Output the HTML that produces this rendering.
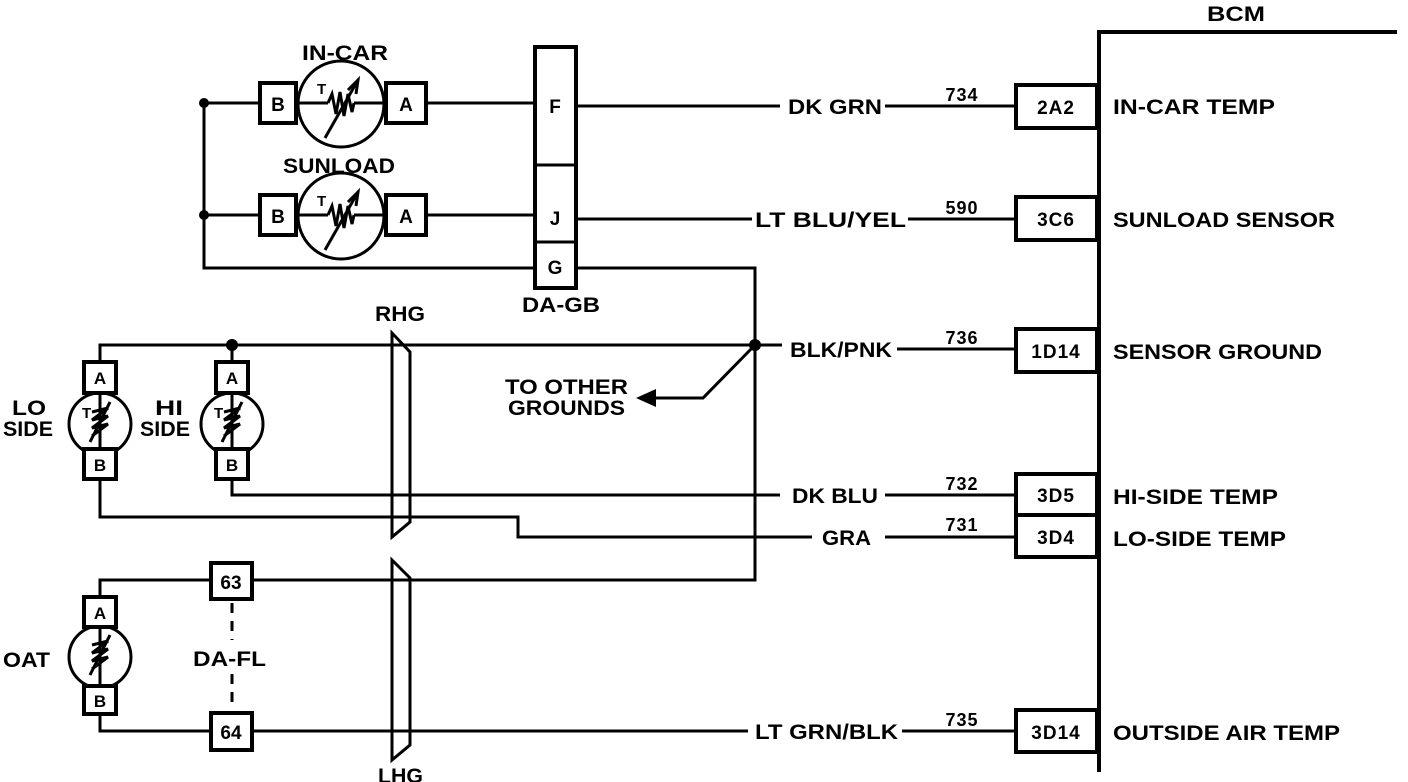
<!DOCTYPE html>
<html><head><meta charset="utf-8"><style>
html,body{margin:0;padding:0;background:#fff;}
svg{display:block;}
text{font-family:"Liberation Sans",sans-serif;font-weight:bold;fill:#000;}
</style></head><body>
<svg width="1408" height="782" viewBox="0 0 1408 782" xmlns="http://www.w3.org/2000/svg">
<g stroke="#000" stroke-width="2" fill="none">
<polyline points="1099,772 1099,32 1397,32" stroke-width="4"/>
<rect x="1016" y="85" width="81" height="43" stroke-width="4" fill="#fff"/>
<rect x="1016" y="197" width="81" height="43" stroke-width="4" fill="#fff"/>
<rect x="1016" y="329" width="81" height="43" stroke-width="4" fill="#fff"/>
<rect x="1016" y="474" width="81" height="41" stroke-width="4" fill="#fff"/>
<rect x="1016" y="515" width="81" height="42" stroke-width="4" fill="#fff"/>
<rect x="1016" y="710" width="81" height="42" stroke-width="4" fill="#fff"/>
<line x1="885" y1="106" x2="1016" y2="106" stroke-width="3"/>
<line x1="908" y1="219" x2="1016" y2="219" stroke-width="3"/>
<line x1="897" y1="349" x2="1016" y2="349" stroke-width="3"/>
<line x1="885" y1="495" x2="1016" y2="495" stroke-width="3"/>
<line x1="885" y1="537" x2="1016" y2="537" stroke-width="3"/>
<line x1="902" y1="731" x2="1016" y2="731" stroke-width="3"/>
<polyline points="204,103 204,268 535,268" stroke-width="3"/>
<line x1="204" y1="103" x2="260" y2="103" stroke-width="3"/>
<line x1="204" y1="215" x2="260" y2="215" stroke-width="3"/>
<rect x="260" y="83" width="36" height="40" stroke-width="4" fill="#fff"/>
<rect x="386" y="83" width="40" height="40" stroke-width="4" fill="#fff"/>
<rect x="260" y="195" width="36" height="40" stroke-width="4" fill="#fff"/>
<rect x="386" y="195" width="40" height="40" stroke-width="4" fill="#fff"/>
<circle cx="341" cy="104" r="43" stroke-width="3" fill="#fff"/>
<circle cx="341" cy="216" r="43" stroke-width="3" fill="#fff"/>
<line x1="296" y1="103" x2="328" y2="103" stroke-width="3"/>
<line x1="354" y1="103" x2="386" y2="103" stroke-width="3"/>
<line x1="296" y1="215" x2="328" y2="215" stroke-width="3"/>
<line x1="354" y1="215" x2="386" y2="215" stroke-width="3"/>
<polyline points="328,103 332,94 336,114 340,92 344,116 348,94 352,112 354,103" stroke-width="3"/>
<line x1="325" y1="138" x2="358" y2="80" stroke-width="3"/>
<polyline points="348,90 358,80 356,94" stroke-width="3"/>
<polyline points="328,215 332,206 336,226 340,204 344,228 348,206 352,224 354,215" stroke-width="3"/>
<line x1="325" y1="250" x2="358" y2="192" stroke-width="3"/>
<polyline points="348,202 358,192 356,206" stroke-width="3"/>
<line x1="426" y1="103" x2="535" y2="103" stroke-width="3"/>
<line x1="426" y1="215" x2="535" y2="215" stroke-width="3"/>
<rect x="535" y="47" width="41" height="241" stroke-width="4" fill="#fff"/>
<line x1="535" y1="165" x2="576" y2="165" stroke-width="3"/>
<line x1="535" y1="242" x2="576" y2="242" stroke-width="3"/>
<line x1="576" y1="106" x2="780" y2="106" stroke-width="3"/>
<line x1="576" y1="219" x2="752" y2="219" stroke-width="3"/>
<polyline points="576,268 755,268 755,580 100,580 100,597" stroke-width="3"/>
<polyline points="100,361 100,345 782,345" stroke-width="3"/>
<line x1="232" y1="345" x2="232" y2="361" stroke-width="3"/>
<polyline points="755,345 703,398 655,398" stroke-width="3"/>
<polygon points="636,398 656,389 656,407" fill="#000" stroke="none"/>
<circle cx="100" cy="424" r="31" stroke-width="3" fill="#fff"/>
<circle cx="232" cy="424" r="31" stroke-width="3" fill="#fff"/>
<rect x="84" y="362" width="32" height="31" stroke-width="4" fill="#fff"/>
<rect x="84" y="449" width="32" height="30" stroke-width="4" fill="#fff"/>
<rect x="216" y="362" width="32" height="31" stroke-width="4" fill="#fff"/>
<rect x="216" y="449" width="32" height="30" stroke-width="4" fill="#fff"/>
<line x1="100" y1="393" x2="100" y2="449" stroke-width="3"/>
<line x1="232" y1="393" x2="232" y2="449" stroke-width="3"/>
<polyline points="92,412 108,408 92,420 108,416 92,428 108,424 92,436" stroke-width="3"/>
<line x1="90" y1="442" x2="110" y2="402" stroke-width="3"/>
<polyline points="224,412 240,408 224,420 240,416 224,428 240,424 224,436" stroke-width="3"/>
<line x1="222" y1="442" x2="242" y2="402" stroke-width="3"/>
<polyline points="232,479 232,495 780,495" stroke-width="3"/>
<polyline points="100,479 100,517 518,517 518,537 812,537" stroke-width="3"/>
<circle cx="100" cy="657" r="31" stroke-width="3" fill="#fff"/>
<rect x="84" y="597" width="32" height="30" stroke-width="4" fill="#fff"/>
<rect x="84" y="686" width="32" height="28" stroke-width="4" fill="#fff"/>
<line x1="100" y1="627" x2="100" y2="686" stroke-width="3"/>
<polyline points="92,645 108,641 92,653 108,649 92,661 108,657 92,669" stroke-width="3"/>
<line x1="90" y1="675" x2="110" y2="635" stroke-width="3"/>
<polyline points="100,714 100,731 748,731" stroke-width="3"/>
<rect x="211" y="563" width="41" height="36" stroke-width="4" fill="#fff"/>
<rect x="211" y="713" width="41" height="37" stroke-width="4" fill="#fff"/>
<line x1="232" y1="603" x2="232" y2="640" stroke-width="3" stroke-dasharray="10,8"/>
<line x1="232" y1="674" x2="232" y2="710" stroke-width="3" stroke-dasharray="10,8"/>
<polygon points="392,333 410,352 410,522 392,537" stroke-width="3" fill="none"/>
<polygon points="392,560 410,578 410,745 392,760" stroke-width="3" fill="none"/>
</g>
<g fill="#000">
<circle cx="204" cy="103" r="5"/><circle cx="204" cy="215" r="5"/>
<circle cx="232" cy="345" r="6"/><circle cx="755" cy="345" r="6"/>
</g>
<g font-size="21">
<text x="1207" y="21" textLength="58" lengthAdjust="spacingAndGlyphs">BCM</text>
<text x="1113" y="114" textLength="162" lengthAdjust="spacingAndGlyphs">IN-CAR TEMP</text>
<text x="1113" y="227" textLength="222" lengthAdjust="spacingAndGlyphs">SUNLOAD SENSOR</text>
<text x="1113" y="359" textLength="209" lengthAdjust="spacingAndGlyphs">SENSOR GROUND</text>
<text x="1113" y="504" textLength="165" lengthAdjust="spacingAndGlyphs">HI-SIDE TEMP</text>
<text x="1113" y="546" textLength="173" lengthAdjust="spacingAndGlyphs">LO-SIDE TEMP</text>
<text x="1113" y="740" textLength="227" lengthAdjust="spacingAndGlyphs">OUTSIDE AIR TEMP</text>
<text x="788" y="114" textLength="94" lengthAdjust="spacingAndGlyphs">DK GRN</text>
<text x="755" y="227" textLength="151" lengthAdjust="spacingAndGlyphs">LT BLU/YEL</text>
<text x="790" y="357" textLength="102" lengthAdjust="spacingAndGlyphs">BLK/PNK</text>
<text x="792" y="503" textLength="86" lengthAdjust="spacingAndGlyphs">DK BLU</text>
<text x="822" y="545" textLength="49" lengthAdjust="spacingAndGlyphs">GRA</text>
<text x="755" y="739" textLength="143" lengthAdjust="spacingAndGlyphs">LT GRN/BLK</text>
<text x="302" y="60" textLength="86" lengthAdjust="spacingAndGlyphs">IN-CAR</text>
<text x="283" y="173" textLength="112" lengthAdjust="spacingAndGlyphs">SUNLOAD</text>
<text x="375" y="321" textLength="50" lengthAdjust="spacingAndGlyphs">RHG</text>
<text x="378" y="783" textLength="45" lengthAdjust="spacingAndGlyphs">LHG</text>
<text x="522" y="312" textLength="78" lengthAdjust="spacingAndGlyphs">DA-GB</text>
<text x="193" y="666" textLength="73" lengthAdjust="spacingAndGlyphs">DA-FL</text>
<text x="505" y="394" textLength="123" lengthAdjust="spacingAndGlyphs">TO OTHER</text>
<text x="508" y="415" textLength="117" lengthAdjust="spacingAndGlyphs">GROUNDS</text>
<text x="12" y="415" textLength="34" lengthAdjust="spacingAndGlyphs">LO</text>
<text x="3" y="436" textLength="50" lengthAdjust="spacingAndGlyphs">SIDE</text>
<text x="155" y="415" textLength="28" lengthAdjust="spacingAndGlyphs">HI</text>
<text x="140" y="436" textLength="50" lengthAdjust="spacingAndGlyphs">SIDE</text>
<text x="3" y="667" textLength="47" lengthAdjust="spacingAndGlyphs">OAT</text>
</g>
<g font-size="18">
<text x="962" y="101" text-anchor="middle" letter-spacing="1">734</text>
<text x="962" y="214" text-anchor="middle" letter-spacing="1">590</text>
<text x="962" y="344" text-anchor="middle" letter-spacing="1">736</text>
<text x="962" y="490" text-anchor="middle" letter-spacing="1">732</text>
<text x="962" y="531" text-anchor="middle" letter-spacing="1">731</text>
<text x="962" y="726" text-anchor="middle" letter-spacing="1">735</text>
</g>
<g font-size="19">
<text x="1056" y="114" text-anchor="middle" letter-spacing="1">2A2</text>
<text x="1056" y="226" text-anchor="middle" letter-spacing="1">3C6</text>
<text x="1056" y="358" text-anchor="middle" letter-spacing="1">1D14</text>
<text x="1056" y="502" text-anchor="middle" letter-spacing="1">3D5</text>
<text x="1056" y="544" text-anchor="middle" letter-spacing="1">3D4</text>
<text x="1056" y="739" text-anchor="middle" letter-spacing="1">3D14</text>
<text x="278" y="111" text-anchor="middle">B</text>
<text x="406" y="111" text-anchor="middle">A</text>
<text x="278" y="223" text-anchor="middle">B</text>
<text x="406" y="223" text-anchor="middle">A</text>
<text x="555" y="113" text-anchor="middle">F</text>
<text x="555" y="225" text-anchor="middle">J</text>
<text x="555" y="274" text-anchor="middle">G</text>
<text x="100" y="384" text-anchor="middle" font-size="17">A</text>
<text x="100" y="471" text-anchor="middle" font-size="17">B</text>
<text x="232" y="384" text-anchor="middle" font-size="17">A</text>
<text x="232" y="471" text-anchor="middle" font-size="17">B</text>
<text x="100" y="619" text-anchor="middle" font-size="17">A</text>
<text x="100" y="707" text-anchor="middle" font-size="17">B</text>
<text x="231" y="589" text-anchor="middle">63</text>
<text x="231" y="739" text-anchor="middle">64</text>
<text x="317" y="94" font-size="15">T</text>
<text x="317" y="206" font-size="15">T</text>
<text x="82" y="418" font-size="15">T</text>
<text x="214" y="418" font-size="15">T</text>
</g>
</svg>
</body></html>
